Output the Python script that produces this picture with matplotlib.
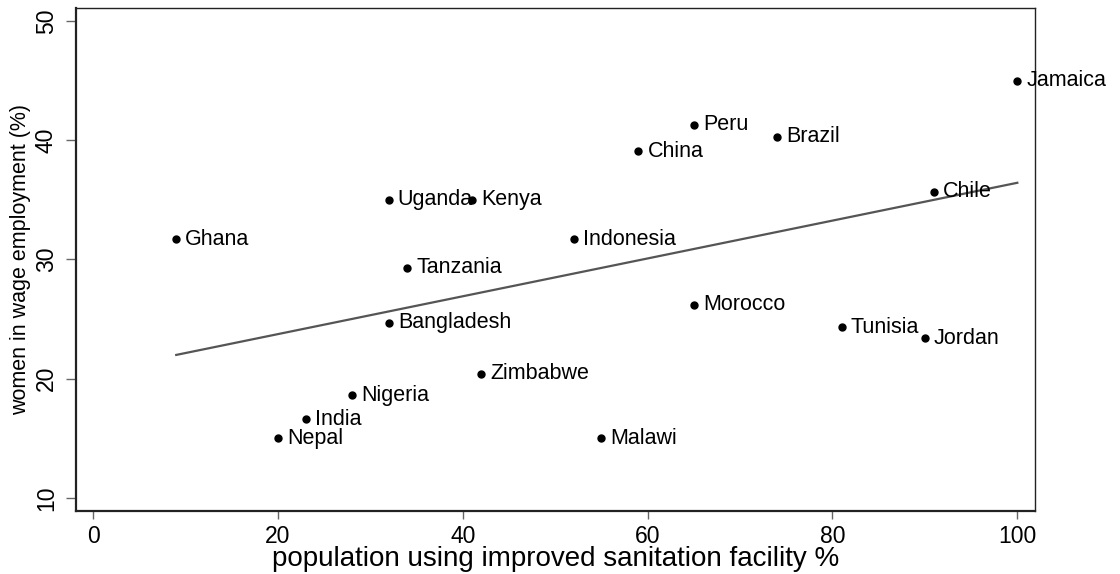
import numpy as np
import matplotlib
matplotlib.use("Agg")
import matplotlib.pyplot as plt

plt.rcParams['font.family'] = ['Liberation Sans', 'DejaVu Sans']

# data
countries = ['Jamaica', 'Peru', 'Brazil', 'China', 'Chile', 'Uganda', 'Kenya',
             'Ghana', 'Indonesia', 'Tanzania', 'Morocco', 'Bangladesh', 'Tunisia',
             'Jordan', 'Zimbabwe', 'Nigeria', 'India', 'Nepal', 'Malawi']
sanitation = [100, 65, 74, 59, 91, 32, 41, 9, 52, 34, 65, 32, 81, 90, 42, 28, 23, 20, 55]
wage_women = [45.0, 41.3, 40.3, 39.1, 35.7, 35.0, 35.0, 31.7, 31.7, 29.3, 26.2, 24.7,
              24.3, 23.4, 20.4, 18.6, 16.6, 15.0, 15.0]
xticks = [0, 20, 40, 60, 80, 100]
yticks = [10, 20, 30, 40, 50]

x = np.array(sanitation, dtype=float)
y = np.array(wage_women, dtype=float)

fig = plt.figure(figsize=(11.2, 5.74), dpi=100)
ax = fig.add_axes([0.0679, 0.1098, 0.924 - 0.0679, 0.9855 - 0.1098])

# linear fit
b, a = np.polyfit(x, y, 1)
xf = np.array([x.min(), x.max()])
ax.plot(xf, a + b * xf, color='#555555', lw=1.6, zorder=2)

ax.plot(x, y, 'o', color='black', ms=5, zorder=3)
for name, xi, yi in zip(countries, x, y):
    ax.annotate(name, (xi, yi), xytext=(6.5, 0), textcoords='offset points',
                ha='left', va='center', fontsize=15.5, color='black',
                annotation_clip=False, zorder=4)

ax.set_xlim(-1.84, 101.9)
ax.set_ylim(8.9, 51.07)
ax.set_xticks(xticks)
ax.set_yticks(yticks)
ax.tick_params(axis='both', direction='out', width=1, color='#666666',
               labelsize=16.5)
ax.tick_params(axis='x', length=6, pad=4)
ax.tick_params(axis='y', length=7, pad=6)
for lab in ax.get_yticklabels():
    lab.set_rotation(90)
    lab.set_va('center')

ax.spines['left'].set_linewidth(1.6)
ax.spines['bottom'].set_linewidth(1.6)
ax.spines['top'].set_linewidth(1.0)
ax.spines['right'].set_linewidth(1.0)
for s in ax.spines.values():
    s.set_color('#222222')

ax.set_xlabel('population using improved sanitation facility %', fontsize=20, va='bottom')
ax.xaxis.set_label_coords(0.5, -0.1215)
ax.set_ylabel('women in wage employment (%)', fontsize=15.5, labelpad=3)

fig.savefig('out.png', dpi=100)
